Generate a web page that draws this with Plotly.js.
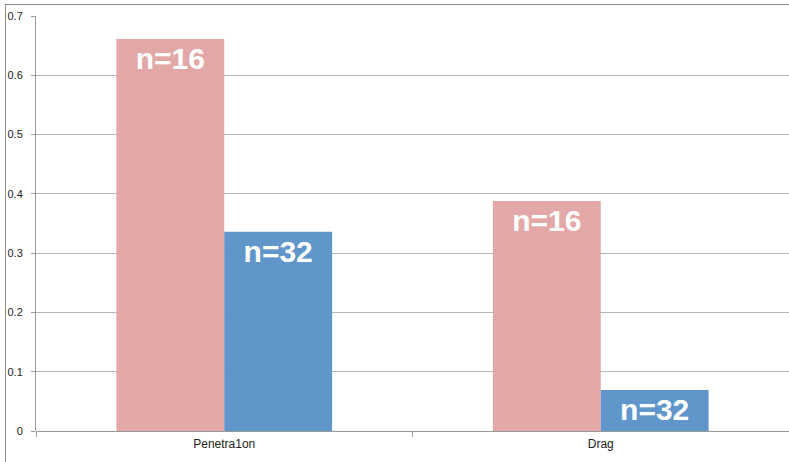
<!DOCTYPE html>
<html><head><meta charset="utf-8">
<script src="https://cdn.plot.ly/plotly-3.0.1.min.js"></script>
<style>html,body{margin:0;padding:0;background:#fff;overflow:hidden}
#frame{position:absolute;left:5px;top:4px;width:900px;height:600px;border:1px solid #8c8c8c;pointer-events:none}
#chart{position:absolute;left:0;top:0;width:789px;height:462px}</style>
</head><body>
<div id="chart"></div><div id="frame"></div>
<script>
const categories = ["Penetra1on", "Drag"];
const seriesA = [0.661, 0.388];   // n=16
const seriesB = [0.336, 0.069];   // n=32
const labelA = "n=16";
const labelB = "n=32";
const yTicks = [0, 0.1, 0.2, 0.3, 0.4, 0.5, 0.6, 0.7];

const textFont = {family: "Liberation Sans, Arial, sans-serif", size: 30, color: "#ffffff", weight: "bold"};
const traces = [
  {type: "bar", x: categories, y: seriesA, name: labelA, marker: {color: "#E1A8A7"},
   text: categories.map(() => labelA), textposition: "inside", insidetextanchor: "end",
   textangle: 0, constraintext: "none", textfont: textFont, hoverinfo: "y"},
  {type: "bar", x: categories, y: seriesB, name: labelB, marker: {color: "#6096C9"},
   text: categories.map(() => labelB), textposition: "inside", insidetextanchor: "end",
   textangle: 0, constraintext: "none", textfont: textFont, hoverinfo: "y"}
];
const layout = {
  width: 789, height: 462,
  margin: {l: 36, r: 0, t: 16, b: 31, pad: 0},
  paper_bgcolor: "#ffffff", plot_bgcolor: "#ffffff",
  showlegend: false, barmode: "group", bargap: 0.427, bargroupgap: 0,
  font: {family: "Liberation Sans, Arial, sans-serif", size: 11, color: "#222"},
  xaxis: {type: "category", showgrid: false, zeroline: false, showline: false,
          ticks: "outside", tickson: "boundaries", ticklen: 5, tickcolor: "#999",
          tickfont: {size: 12, color: "#222"}, ticklabelstandoff: 4},
  yaxis: {range: [0, 0.7], tickvals: yTicks, ticktext: yTicks.map(v => String(v)),
          showgrid: true, gridcolor: "#b5b5b5", gridwidth: 1,
          zeroline: true, zerolinecolor: "#999", zerolinewidth: 1,
          showline: true, linecolor: "#999", linewidth: 1,
          ticks: "outside", ticklen: 4, tickcolor: "#999",
          tickfont: {size: 11, color: "#222"}, ticklabelstandoff: 6}
};
Plotly.newPlot("chart", traces, layout, {displayModeBar: false, staticPlot: true});
</script>
</body></html>
